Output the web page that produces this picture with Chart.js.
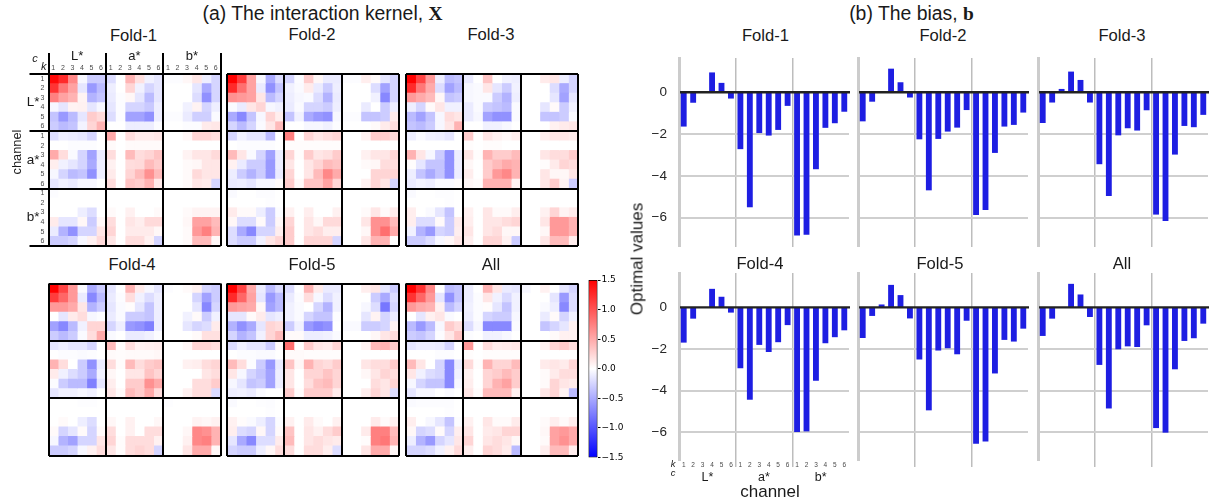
<!DOCTYPE html>
<html><head><meta charset="utf-8">
<style>
html,body{margin:0;padding:0;background:#fff;width:1221px;height:504px;overflow:hidden;font-family:"Liberation Sans",Arial,sans-serif}
canvas{position:absolute;display:block}
.t{position:absolute;white-space:nowrap;color:#1a1a1a;line-height:1;transform:translate(-50%,-50%);pointer-events:none}
</style>
<script src="https://cdn.jsdelivr.net/npm/chart.js@4/dist/chart.umd.min.js"></script>
</head><body>
<script>
// ---- data: interaction kernel values, in hundredths, 18 rows x 18 columns (L*,a*,b* x k=1..6)
const kernelFold1=[
[145,125,70,-5,-30,-30,-20,0,45,18,-8,-15,-2,-2,5,15,-10,-25],
[120,80,55,-15,-60,-40,-10,0,25,-8,-25,-15,0,0,0,-15,-50,-25],
[75,55,45,7,-45,-35,-12,-2,5,-15,-40,-15,0,0,0,-20,-65,-25],
[-5,-15,7,8,-15,-5,-15,-2,-25,-25,-32,-10,0,0,-8,7,-25,-10],
[-35,-60,-40,-15,30,22,-20,-2,-55,-55,-65,-10,-2,-2,-12,-28,-28,-3],
[-30,-40,-35,-7,25,45,0,0,-10,-10,-10,-2,0,0,-2,-2,12,14],
[-20,-10,-12,-15,-25,0,50,0,20,12,12,15,0,0,5,25,25,20],
[0,0,-2,-2,-2,0,3,0,3,3,3,3,0,0,0,0,0,0],
[50,20,-3,-25,-55,-12,20,0,40,20,25,35,0,0,7,15,15,22],
[10,-8,-15,-25,-50,-10,8,0,20,22,40,30,0,0,3,5,15,15],
[-5,-25,-40,-35,-65,-10,12,0,25,40,65,40,0,0,3,22,15,15],
[-15,-8,-12,-5,-5,0,20,0,35,30,45,12,0,0,3,15,12,-25],
[-2,0,0,0,0,0,0,0,0,0,0,0,0,0,0,0,0,0],
[0,0,0,0,0,0,0,0,0,0,0,0,0,0,0,0,0,0],
[0,0,0,-10,-20,0,3,0,8,0,0,3,0,0,3,7,7,7],
[12,-15,-15,5,-30,5,20,0,15,10,22,22,0,0,5,55,55,40],
[-12,-45,-65,-25,-25,15,25,0,12,12,12,5,0,0,3,60,75,45],
[-30,-30,-25,-5,8,22,15,0,20,20,8,-25,0,0,3,40,40,5]];
const kernelFold2=[
[150,115,55,-5,-50,-20,-25,-2,30,5,-12,-12,-2,-2,10,3,-15,-25],
[125,85,55,-12,-65,-35,-8,-3,12,-12,-30,-10,0,0,0,-20,-55,-25],
[65,60,55,15,-40,-25,-10,-5,-3,-20,-45,-12,0,0,0,-8,-70,-25],
[-3,-12,15,25,-5,-8,-12,-3,-25,-25,-30,-10,0,0,-12,0,-30,-10],
[-50,-70,-35,-5,25,10,-35,-8,-50,-60,-65,-5,-2,-2,-35,-35,-30,12],
[-25,-40,-25,-3,15,40,0,0,-5,-5,-8,-2,0,0,0,3,12,20],
[-25,-8,-15,-15,-40,0,75,0,25,15,20,25,0,0,8,30,30,22],
[0,-2,-2,-2,-2,0,2,2,2,2,2,2,0,0,0,0,0,0],
[40,15,-3,-25,-55,-10,25,2,30,15,18,30,0,0,8,15,15,25],
[8,-12,-30,-30,-60,-10,15,0,15,25,40,35,0,0,3,5,20,20],
[-10,-30,-45,-30,-60,-12,25,0,15,40,70,50,0,0,0,25,25,25],
[-12,-10,-15,-5,-5,3,30,3,35,35,55,25,0,0,8,25,15,-25],
[-3,0,0,-2,-2,0,0,0,0,0,0,0,0,0,0,0,0,0],
[0,0,0,0,-1,0,0,0,0,0,0,0,0,0,0,0,0,0],
[12,3,3,-10,-30,-2,8,0,10,0,0,8,0,0,3,15,3,12],
[5,-20,-20,3,-30,5,25,0,15,5,22,22,0,0,15,65,65,40],
[-20,-50,-70,-25,-25,10,30,0,15,20,10,10,0,0,5,65,85,50],
[-20,-30,-30,-8,15,25,30,0,25,25,25,-25,0,0,15,45,45,0]];
const kernelFold3=[
[150,110,60,-10,-40,-35,-12,0,35,0,-8,-10,0,0,12,15,-10,-25],
[125,80,50,-20,-55,-40,-5,-3,15,-15,-30,-8,0,0,0,-20,-50,-25],
[60,50,40,5,-35,-30,-5,-3,-3,-30,-45,-10,0,0,0,-15,-55,-15],
[-10,-25,3,15,-8,-8,-12,-3,-30,-35,-40,-3,0,0,-15,3,-30,-8],
[-40,-55,-35,-5,20,15,-12,-5,-55,-65,-65,-3,0,0,-35,-35,-30,-3],
[-35,-40,-30,-5,15,45,0,0,-8,-8,-5,0,0,0,0,8,12,15],
[-10,-3,-8,-10,-15,0,30,0,15,8,5,10,0,0,10,15,15,12],
[0,0,0,0,0,0,2,0,2,2,0,0,0,0,0,0,0,0],
[45,15,-5,-30,-65,-10,15,2,45,30,30,40,0,0,15,20,20,30],
[2,-15,-35,-35,-65,-10,5,0,30,40,50,45,0,0,2,12,25,20],
[-10,-35,-50,-35,-65,-10,10,0,30,60,70,45,0,0,15,5,5,15],
[-12,-7,-10,-3,-3,2,5,2,45,45,45,7,0,0,15,30,7,-30],
[-3,0,0,-1,-1,0,0,0,0,0,0,0,0,0,0,0,0,0],
[0,0,0,0,-1,0,0,0,0,0,0,0,0,0,0,0,0,0],
[10,0,-3,-15,-35,0,8,0,15,3,3,10,0,0,8,25,7,12],
[10,-20,-20,3,-30,12,10,0,15,15,20,25,0,0,15,60,60,45],
[-8,-45,-60,-25,-30,10,15,0,15,20,5,5,0,0,5,60,60,45],
[-30,-30,-20,-5,5,15,10,0,25,25,8,-30,0,0,15,40,40,10]];
const kernelFold4=[
[150,110,60,-3,-50,-30,-15,0,45,12,-5,-15,-2,0,3,8,-25,-30],
[115,90,60,-12,-70,-40,-12,-2,20,-8,-20,-10,0,0,0,-25,-55,-30],
[60,60,50,15,-45,-30,-15,-3,2,-15,-35,-10,0,0,0,-15,-70,-25],
[0,-15,12,20,-5,-2,-12,-3,-30,-30,-35,-10,0,0,-8,3,-30,-8],
[-55,-70,-40,-8,25,25,-25,-10,-60,-65,-75,-10,0,0,-15,-25,-20,12],
[-30,-40,-30,-3,20,50,-3,0,-12,-12,-8,-2,0,0,0,3,18,18],
[-15,-10,-15,-15,-25,0,40,2,20,8,10,12,0,0,5,25,25,20],
[0,-2,-2,-3,-2,0,3,2,3,3,3,5,0,0,0,0,0,0],
[45,20,0,-30,-65,-12,20,2,40,20,30,35,0,0,8,10,20,25],
[12,-8,-20,-30,-50,-8,5,0,15,15,35,25,0,0,0,0,15,20],
[-2,-30,-40,-40,-75,-15,10,0,30,30,65,50,0,0,0,20,20,30],
[-15,-8,-8,-5,-8,0,15,3,40,30,50,20,0,0,8,20,20,-22],
[0,0,0,-1,-1,0,0,0,0,0,0,0,-1,0,0,0,0,0],
[0,0,0,0,0,0,0,0,0,0,0,0,0,0,0,0,0,0],
[0,3,0,-10,-20,0,5,0,8,0,0,5,0,0,0,7,5,8],
[3,-25,-15,3,-25,3,20,0,8,0,20,20,0,0,5,70,65,45],
[-5,-45,-55,-25,-25,15,25,2,20,20,20,8,0,0,8,70,75,45],
[-30,-30,-25,-5,8,20,15,2,20,25,20,-25,0,0,15,50,50,5]];
const kernelFold5=[
[150,110,50,-12,-40,-20,-20,0,45,12,-12,-12,0,0,10,15,-15,-30],
[125,90,55,-15,-60,-40,-12,-2,20,-5,-20,-8,0,0,0,-30,-50,-20],
[60,55,50,5,-55,-40,-8,-3,0,-25,-45,-8,0,0,-5,-20,-80,-25],
[-15,-15,3,12,-15,-10,-8,-3,-25,-35,-35,-2,0,0,-15,7,-25,-12],
[-45,-65,-50,-15,25,20,-30,-8,-60,-70,-65,0,-3,-3,-30,-30,-25,7],
[-25,-45,-35,-8,25,40,3,3,-10,-10,-8,-3,0,0,0,5,15,20],
[-20,-8,-15,-15,-30,3,85,0,30,15,12,25,0,0,7,40,45,30],
[0,-2,-2,-3,-3,0,3,3,2,2,2,2,0,0,0,0,0,0],
[40,20,-2,-30,-60,-12,35,5,45,25,20,30,0,0,15,20,20,30],
[15,-5,-25,-35,-55,-10,15,0,25,25,35,25,0,0,5,15,25,20],
[-5,-15,-35,-30,-55,-10,15,0,20,35,40,25,0,0,0,20,15,25],
[-10,-8,-12,-3,0,0,30,2,30,30,30,12,0,0,10,25,15,-20],
[-3,0,0,-1,-2,0,0,0,0,0,0,0,0,0,0,0,0,0],
[0,0,0,0,-1,0,0,0,0,0,0,0,0,0,0,0,0,0],
[8,2,-3,-10,-25,-2,8,0,12,3,0,8,0,0,0,12,3,8],
[10,-20,-25,5,-25,3,35,0,15,8,20,30,0,0,12,75,75,40],
[-15,-50,-70,-20,-20,12,40,0,15,20,15,12,0,0,2,75,80,45],
[-25,-30,-30,-10,5,20,20,0,20,20,10,-20,0,0,15,50,50,5]];
const kernelAll=[
[150,120,70,0,-40,-35,-10,0,45,15,-12,-15,-5,0,8,0,-15,-25],
[120,90,60,-15,-65,-35,-10,-2,15,-8,-22,-8,0,0,0,-15,-60,-20],
[60,50,45,8,-40,-25,-8,-2,2,-15,-35,-8,0,0,-3,-10,-70,-20],
[0,-15,8,15,-3,0,-10,-2,-25,-30,-30,-5,0,0,-12,3,-25,-8],
[-40,-60,-40,-5,30,20,-20,-5,-70,-70,-70,-3,0,0,-35,-25,-15,8],
[-30,-35,-25,-2,15,35,-2,0,-8,-8,-5,0,0,0,0,3,8,8],
[-15,-10,-10,-12,-25,0,60,0,20,10,12,15,0,0,8,25,30,20],
[0,0,0,-2,-2,0,2,0,2,2,2,2,0,0,0,0,0,0],
[40,15,0,-25,-70,-12,22,2,45,25,25,40,0,0,12,15,12,25],
[15,-8,-20,-25,-70,-8,8,0,25,30,40,30,0,0,3,12,20,20],
[-5,-25,-35,-35,-70,-5,10,0,25,45,55,30,0,0,3,25,15,12],
[-15,-5,-5,0,-3,0,15,2,40,40,40,8,0,0,15,25,7,-40],
[-3,-2,-2,-2,-2,0,0,0,0,0,0,0,0,0,0,0,0,0],
[0,0,0,0,-1,0,0,0,0,0,0,0,0,0,0,0,0,0],
[10,0,-5,-15,-35,-2,8,0,15,3,3,12,0,0,3,10,3,10],
[5,-25,-20,3,-25,10,15,0,12,15,25,25,0,0,5,55,60,50],
[-10,-45,-60,-25,-15,15,25,0,15,20,15,5,0,0,3,55,65,50],
[-25,-25,-20,-8,8,22,10,0,25,20,12,-40,0,0,10,40,40,10]];
// ---- data: optimal bias values
const biasFold1=[-1.64,-.5,0,.95,.45,-.3,-2.72,-5.5,-1.95,-2.07,-1.8,-.65,-6.85,-6.82,-3.68,-1.7,-1.48,-.93];
const biasFold2=[-1.39,-.45,.02,1.13,.48,-.25,-2.25,-4.69,-2.23,-1.88,-1.69,-.85,-5.87,-5.63,-2.9,-1.64,-1.56,-.97];
const biasFold3=[-1.47,-.49,.16,.99,.59,-.49,-3.44,-4.96,-2.06,-1.72,-1.83,-.86,-5.85,-6.16,-2.98,-1.61,-1.67,-1.08];
const biasFold4=[-1.69,-.54,0,.89,.51,-.25,-2.92,-4.43,-1.8,-2.14,-1.67,-.85,-5.98,-5.95,-3.52,-1.72,-1.43,-1.1];
const biasFold5=[-1.47,-.41,.14,1.08,.59,-.53,-2.5,-4.94,-2.07,-1.96,-2.25,-.64,-6.54,-6.43,-3.17,-1.56,-1.64,-1.02];
const biasAll=[-1.37,-.54,0,1.13,.62,-.46,-2.76,-4.85,-2.01,-1.87,-1.9,-.86,-5.79,-6.01,-2.97,-1.61,-1.48,-.78];
// ---- labels
const kTicks=['1','2','3','4','5','6','1','2','3','4','5','6','1','2','3','4','5','6'];
const channelNames=['L*','a*','b*'];
const biasTicks=[0,-2,-4,-6];

const SANS='"Liberation Sans",Arial,sans-serif';
Chart.defaults.animation=false;
Chart.defaults.responsive=false;
Chart.defaults.font.family=SANS;
Chart.defaults.plugins.legend.display=false;
Chart.defaults.plugins.tooltip.enabled=false;

function makeCanvas(left,top,w,h){
  const c=document.createElement('canvas');
  c.width=w;c.height=h;c.style.left=left+'px';c.style.top=top+'px';
  c.style.width=w+'px';c.style.height=h+'px';
  document.body.appendChild(c);return c;
}
function label(html,x,y,size,opt){
  opt=opt||{};
  const d=document.createElement('div');d.className='t';d.innerHTML=html;
  d.style.left=x+'px';d.style.top=y+'px';d.style.fontSize=size+'px';
  if(opt.rotate)d.style.transform='translate(-50%,-50%) rotate(-90deg)';
  if(opt.italic)d.style.fontStyle='italic';
  document.body.appendChild(d);
}
function fixed(size){return s=>{
  if(s.isHorizontal())s.height=size;else s.width=size;
  s.paddingLeft=s.paddingRight=s.paddingTop=s.paddingBottom=0;
};}
function bwr(v){ // blue-white-red over -1.5..1.5
  const t=Math.max(-1,Math.min(1,v/1.5));
  const c=Math.round(255*(1-Math.abs(t)));
  return t<0?`rgb(${c},${c},255)`:`rgb(255,${c},${c})`;
}
const SMALL={size:7};
const major=(ctx,a,b)=>((ctx.index===undefined||ctx.index%6===0)?a:b);

function heat(matrix,L,T,opt){
  opt=opt||{};
  const S=172, mL=opt.axes?L-20:3, mT=opt.axes?T-50:3, INNER=9;
  const cLeft=Math.floor(L-mL), cTop=Math.floor(T-mT);
  const cW=Math.ceil(S+(L-cLeft)+4), cH=Math.ceil(S+(T-cTop)+4);
  const canvas=makeCanvas(cLeft,cTop,cW,cH);
  const cols=kTicks.map((_,j)=>({
    data:kTicks.map(()=>1),
    backgroundColor:matrix.map(r=>bwr(r[j]/100)),
    borderWidth:0,barPercentage:1,categoryPercentage:1,inflateAmount:.4
  }));
  const scales={
    x:{type:'linear',position:'bottom',stacked:true,min:0,max:18,weight:0,
       afterBuildTicks:s=>{s.ticks=[0,6,12,18].map(v=>({value:v}));},
       ticks:{display:false},border:{display:false},
       grid:{color:'#000',lineWidth:2,z:1,drawTicks:false},afterFit:fixed(0)},
    y:{type:'category',position:'left',stacked:true,offset:true,weight:0,labels:kTicks,
       ticks:{display:!!opt.axes,autoSkip:false,font:SMALL,color:'#4a4a4a',padding:-15},
       border:{display:false},
       grid:{offset:true,z:1,drawTicks:!!opt.axes,tickLength:19,
             color:c=>major(c,'#000','rgba(0,0,0,0)'),lineWidth:c=>major(c,2,0),
             tickColor:c=>major(c,'#000','rgba(0,0,0,0)'),tickWidth:c=>major(c,2,0)},
       afterFit:fixed(opt.axes?INNER:0)}
  };
  if(opt.axes){
    scales.y2={type:'category',position:'left',offset:true,labels:channelNames,weight:1,
       ticks:{font:{size:13.5},color:'#1a1a1a',padding:0,autoSkip:false},
       border:{display:false},grid:{display:false,drawTicks:false},afterFit:fixed(mL-INNER)};
    scales.x2={type:'category',position:'top',offset:true,labels:kTicks,weight:0,
       ticks:{font:SMALL,color:'#4a4a4a',padding:-19,autoSkip:false,maxRotation:0},
       border:{display:false},
       grid:{offset:true,drawOnChartArea:false,tickLength:21,
             color:c=>major(c,'#000','rgba(0,0,0,0)'),lineWidth:c=>major(c,2,0),
             tickColor:c=>major(c,'#000','rgba(0,0,0,0)'),tickWidth:c=>major(c,2,0)},
       afterFit:fixed(10)};
    scales.x3={type:'category',position:'top',offset:true,labels:channelNames,weight:1,
       ticks:{font:{size:13},color:'#1a1a1a',padding:0,autoSkip:false,maxRotation:0},
       border:{display:false},grid:{display:false,drawTicks:false},afterFit:fixed(mT-10)};
  }
  new Chart(canvas,{type:'bar',
    data:{labels:kTicks,datasets:cols},
    options:{indexAxis:'y',devicePixelRatio:1,
      layout:{padding:{left:L-cLeft-(opt.axes?mL:0),top:T-cTop-(opt.axes?mT:0),
                       right:cW-(L-cLeft)-S,bottom:cH-(T-cTop)-S}},
      scales}});
}
const zeroLine={id:'zeroLine',afterDatasetsDraw(ch){
  const y=ch.scales.y.getPixelForValue(0),a=ch.chartArea,c=ch.ctx;
  c.save();c.strokeStyle='#222';c.lineWidth=2.4;c.beginPath();c.moveTo(a.left+1,y);c.lineTo(a.right+1,y);c.stroke();c.restore();
}};
function bars(values,L,T,B,ymin,ymax,opt){
  opt=opt||{};
  const W=170, mL=opt.yAxis?39:3, mT=2, mR=4;
  const mB=opt.xAxis?27:(opt.lower?8:2);
  const canvas=makeCanvas(L-mL,T-mT,W+mL+mR,B-T+mT+mB);
  const gridClr=c=>(c.index===undefined||c.index===0||c.index%6!==0)?'rgba(0,0,0,0)':'#bdbdbd';
  const gridW=c=>(c.index===undefined||c.index===0||c.index%6!==0)?0:1.5;
  const scales={
    x:{type:'category',position:'bottom',offset:true,weight:0,
       ticks:{display:!!opt.xAxis,autoSkip:false,maxRotation:0,font:{size:6.5},color:'#4a4a4a',padding:-6},
       border:{display:false},
       grid:{offset:true,color:gridClr,lineWidth:gridW,tickColor:gridClr,tickWidth:gridW,
             drawTicks:!!opt.lower,tickLength:6},
       afterFit:fixed(opt.xAxis?9:(opt.lower?6:0))},
    y:{type:'linear',position:'left',min:ymin,max:ymax,weight:0,
       afterBuildTicks:s=>{s.ticks=biasTicks.map(v=>({value:v}));},
       ticks:{display:!!opt.yAxis,font:{size:13.5},color:'#262626',padding:12,
              callback:v=>String(v).replace('-','\u2212')},
       border:{display:true,color:'#cccccc',width:3},
       grid:{drawTicks:false,lineWidth:c=>(c.tick&&c.tick.value===0)?0:2,color:'#cfcfcf'},
       afterFit:fixed(opt.yAxis?36:0)}
  };
  if(opt.xAxis){
    scales.x2={type:'category',position:'bottom',offset:true,labels:channelNames,weight:1,
       ticks:{font:{size:12.5},color:'#1a1a1a',padding:0,autoSkip:false,maxRotation:0},
       border:{display:false},grid:{display:false,drawTicks:false},afterFit:fixed(16)};
  }
  new Chart(canvas,{type:'bar',
    data:{labels:kTicks,datasets:[{data:values,backgroundColor:'#1e1ee2',borderWidth:0,barPercentage:.62,categoryPercentage:1}]},
    options:{devicePixelRatio:1,layout:{padding:{left:3,top:mT,right:mR,bottom:2}},scales},
    plugins:[zeroLine]});
}
// heat maps
heat(kernelFold1,48.5,74,{axes:true});
heat(kernelFold2,227,74);
heat(kernelFold3,406,74);
heat(kernelFold4,48.5,283.5);
heat(kernelFold5,227,283.5);
heat(kernelAll,406,283.5);
// colour bar
(function(){
  const c=makeCanvas(584,272,40,194);
  new Chart(c,{type:'bar',
    data:{labels:['k'],datasets:[{data:[[-1.5,1.5]],barPercentage:1,categoryPercentage:1,
      borderWidth:1,borderColor:'#000',borderSkipped:false,
      backgroundColor:ctx=>{
        const a=ctx.chart.chartArea;if(!a)return '#fff';
        const g=ctx.chart.ctx.createLinearGradient(0,a.bottom,0,a.top);
        g.addColorStop(0,'#0000ff');g.addColorStop(.5,'#ffffff');g.addColorStop(1,'#ff0000');return g;}}]},
    options:{devicePixelRatio:1,layout:{padding:{left:4.5,top:8,bottom:8.5,right:0}},
      scales:{x:{display:false},
        y:{type:'linear',position:'right',min:-1.5,max:1.5,
           ticks:{stepSize:.5,padding:1,color:'#000',font:{family:'"DejaVu Sans"',size:9},
                  callback:v=>Number(v).toFixed(1).replace('-','\u2212')},
           border:{display:false},
           grid:{drawOnChartArea:false,tickLength:3,color:'#000',lineWidth:1},afterFit:fixed(26.5)}}}});
})();
// bar panels
const R1=[58,247,-7.40,1.64], R2=[273,461,-7.37,1.65];
bars(biasFold1,679,R1[0],R1[1],R1[2],R1[3],{yAxis:true});
bars(biasFold2,858,R1[0],R1[1],R1[2],R1[3]);
bars(biasFold3,1038,R1[0],R1[1],R1[2],R1[3]);
bars(biasFold4,679,R2[0],R2[1],R2[2],R2[3],{yAxis:true,lower:true,xAxis:true});
bars(biasFold5,858,R2[0],R2[1],R2[2],R2[3],{lower:true});
bars(biasAll,1038,R2[0],R2[1],R2[2],R2[3],{lower:true});
// titles and axis names
label('(a) The interaction kernel, <b style="font-family:\'Liberation Serif\',serif">X</b>',322.5,13.5,19.4);
label('(b) The bias, <b style="font-family:\'Liberation Serif\',serif">b</b>',911.5,13.5,19.4);
[['Fold-1',133.5,36],['Fold-2',312,35],['Fold-3',491,35],['Fold-4',132,265],['Fold-5',312,265],['All',491,265],
 ['Fold-1',765.5,36],['Fold-2',943,36],['Fold-3',1122,36],['Fold-4',760,264],['Fold-5',940,264],['All',1122,264]]
 .forEach(a=>label(a[0],a[1],a[2],16.6));
label('channel',17,152,12.8,{rotate:true});
label('Optimal values',637,259,17,{rotate:true});
label('channel',770,491,17);
label('c',35,58,11,{italic:true});
label('k',43.7,66,11,{italic:true});
label('k',673,464,9.5,{italic:true});
label('c',673,473,9.5,{italic:true});
</script>
</body></html>
